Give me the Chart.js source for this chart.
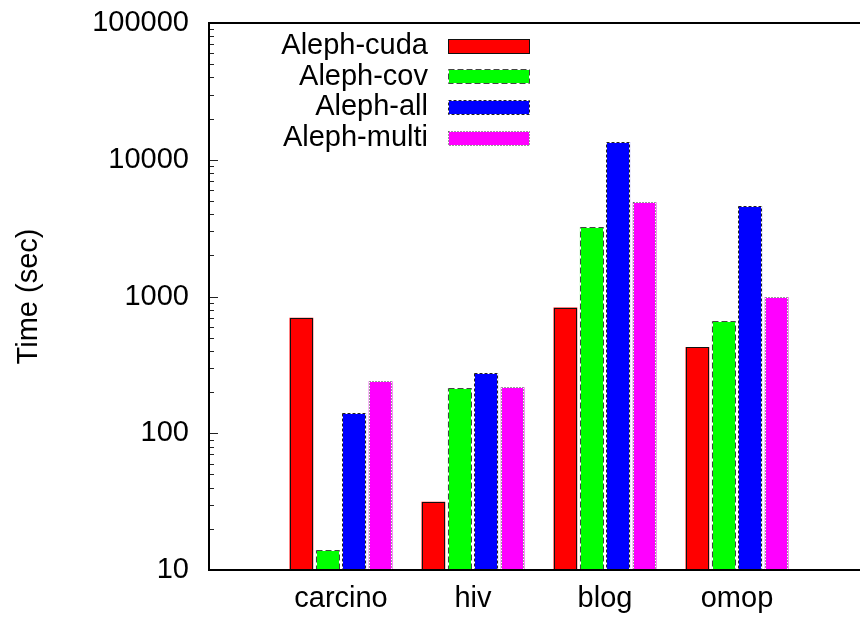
<!DOCTYPE html>
<html>
<head>
<meta charset="utf-8">
<script src="https://cdn.jsdelivr.net/npm/chart.js@4.4.0/dist/chart.umd.min.js"></script>
<style>
  html, body { margin: 0; padding: 0; background: #fff; overflow: hidden; }
  #wrap { width: 860px; height: 617px; overflow: hidden; position: relative; }
  canvas { display: block; }
</style>
</head>
<body>
<div id="wrap"><canvas id="c" width="880" height="617"></canvas></div>
<script>
// Run time per data set, four Aleph configurations
const categories = ['carcino', 'hiv', 'blog', 'omop'];
const seriesNames = ['Aleph-cuda', 'Aleph-cov', 'Aleph-all', 'Aleph-multi'];
const alephCuda  = [700, 31.5, 830, 427];
const alephCov   = [14, 214, 3210, 660];
const alephAll   = [140, 274, 13500, 4560];
const alephMulti = [240, 217, 4880, 990];
const yTickValues = [10, 100, 1000, 10000, 100000];
const yAxisTitle = 'Time (sec)';

const FONT = "'Liberation Sans', Arial, Helvetica, sans-serif";
const FONT_SIZE = 29;

const seriesValues = [alephCuda, alephCov, alephAll, alephMulti];
const seriesStyles = [
  { fill: '#ff0000', dash: [],     edge: '#111' },
  { fill: '#00ff00', dash: [6, 3], edge: '#444' },
  { fill: '#0000ff', dash: [3, 2], edge: '#222' },
  { fill: '#ff00ff', dash: [1, 2], edge: '#333' }
];

const datasets = seriesNames.map((name, k) => ({
  label: name,
  data: categories.map((c, i) => ({ x: i, y: seriesValues[k][i] })),
  backgroundColor: seriesStyles[k].fill,
  borderWidth: 0,
  categoryPercentage: 0.8,
  barPercentage: 0.9
}));

function strokeBox(ctx, l, t, r, b, style) {
  ctx.save();
  ctx.lineWidth = 1;
  if (style.dash.length) {
    ctx.setLineDash([]);
    ctx.strokeStyle = '#fff';
    ctx.strokeRect(l, t, r - l, b - t);
  }
  ctx.setLineDash(style.dash);
  ctx.strokeStyle = style.edge;
  ctx.strokeRect(l, t, r - l, b - t);
  ctx.restore();
}

// gnuplot-like frame: bar outlines, border, inward log ticks and key
const framePlugin = {
  id: 'gnuplotFrame',
  afterDatasetsDraw(chart) {
    const ctx = chart.ctx;
    chart.data.datasets.forEach((ds, k) => {
      const meta = chart.getDatasetMeta(k);
      meta.data.forEach(el => {
        const p = el.getProps(['x', 'y', 'base', 'width'], true);
        const l = Math.round(p.x - p.width / 2) + 0.5;
        const r = Math.round(p.x + p.width / 2) - 0.5;
        const t = Math.round(p.y) + 0.5;
        const b = Math.round(p.base) - 0.5;
        strokeBox(ctx, l, t, r, b, seriesStyles[k]);
      });
    });
  },
  afterDraw(chart) {
    const ctx = chart.ctx;
    const a = chart.chartArea;
    const ys = chart.scales.y;

    // inward ticks on the left axis
    ctx.save();
    ctx.lineWidth = 1;
    ctx.strokeStyle = '#222';
    for (let d = 0; d < yTickValues.length; d++) {
      const dec = yTickValues[d];
      const py = Math.round(ys.getPixelForValue(dec)) + 0.5;
      ctx.beginPath(); ctx.moveTo(a.left, py); ctx.lineTo(a.left + 9, py); ctx.stroke();
      if (d < yTickValues.length - 1) {
        for (let m = 2; m <= 9; m++) {
          const my = Math.round(ys.getPixelForValue(dec * m)) + 0.5;
          ctx.beginPath(); ctx.moveTo(a.left, my); ctx.lineTo(a.left + 5, my); ctx.stroke();
        }
      }
    }
    ctx.restore();

    // border
    ctx.save();
    ctx.lineWidth = 2;
    ctx.strokeStyle = '#000';
    ctx.strokeRect(a.left, a.top, a.right - a.left, a.bottom - a.top);
    ctx.restore();

    // key: right-aligned labels followed by sample boxes
    ctx.save();
    ctx.font = FONT_SIZE + 'px ' + FONT;
    ctx.textAlign = 'right';
    ctx.textBaseline = 'middle';
    ctx.fillStyle = '#000';
    chart.data.datasets.forEach((ds, k) => {
      const cy = 46 + k * 30.7;
      ctx.fillText(ds.label, 428, cy);
      const top = Math.round(cy - 7.5);
      ctx.fillStyle = seriesStyles[k].fill;
      ctx.fillRect(448, top, 82, 15);
      ctx.fillStyle = '#000';
      strokeBox(ctx, 448.5, top + 0.5, 529.5, top + 14.5, seriesStyles[k]);
    });
    ctx.restore();
  }
};

new Chart(document.getElementById('c'), {
  type: 'bar',
  data: { datasets },
  options: {
    responsive: false,
    devicePixelRatio: 1,
    animation: false,
    layout: { padding: { left: 0, top: 23, right: 11, bottom: 0 } },
    plugins: { legend: { display: false }, tooltip: { enabled: false } },
    scales: {
      x: {
        type: 'linear',
        min: -1,
        max: 4,
        offset: false,
        grid: { display: false, drawTicks: false },
        border: { display: false },
        afterBuildTicks: s => { s.ticks = categories.map((c, i) => ({ value: i })); },
        afterFit: s => { s.height = 47; s.paddingLeft = 0; s.paddingRight = 0; },
        ticks: {
          padding: 12,
          color: '#000',
          font: { family: FONT, size: FONT_SIZE },
          maxRotation: 0,
          autoSkip: false,
          callback: v => categories[v] ?? ''
        }
      },
      y: {
        type: 'logarithmic',
        min: 10,
        max: 100000,
        grid: { display: false, drawTicks: false },
        border: { display: false },
        afterBuildTicks: s => { s.ticks = yTickValues.map(v => ({ value: v, major: true })); },
        afterFit: s => { s.width = 209; s.paddingTop = 0; s.paddingBottom = 0; },
        ticks: {
          padding: 20,
          color: '#000',
          font: { family: FONT, size: FONT_SIZE },
          autoSkip: false,
          callback: v => String(v)
        },
        title: {
          display: true,
          text: yAxisTitle,
          color: '#000',
          font: { family: FONT, size: FONT_SIZE },
          padding: { top: 12, bottom: 0 }
        }
      }
    }
  },
  plugins: [framePlugin]
});
</script>
</body>
</html>
